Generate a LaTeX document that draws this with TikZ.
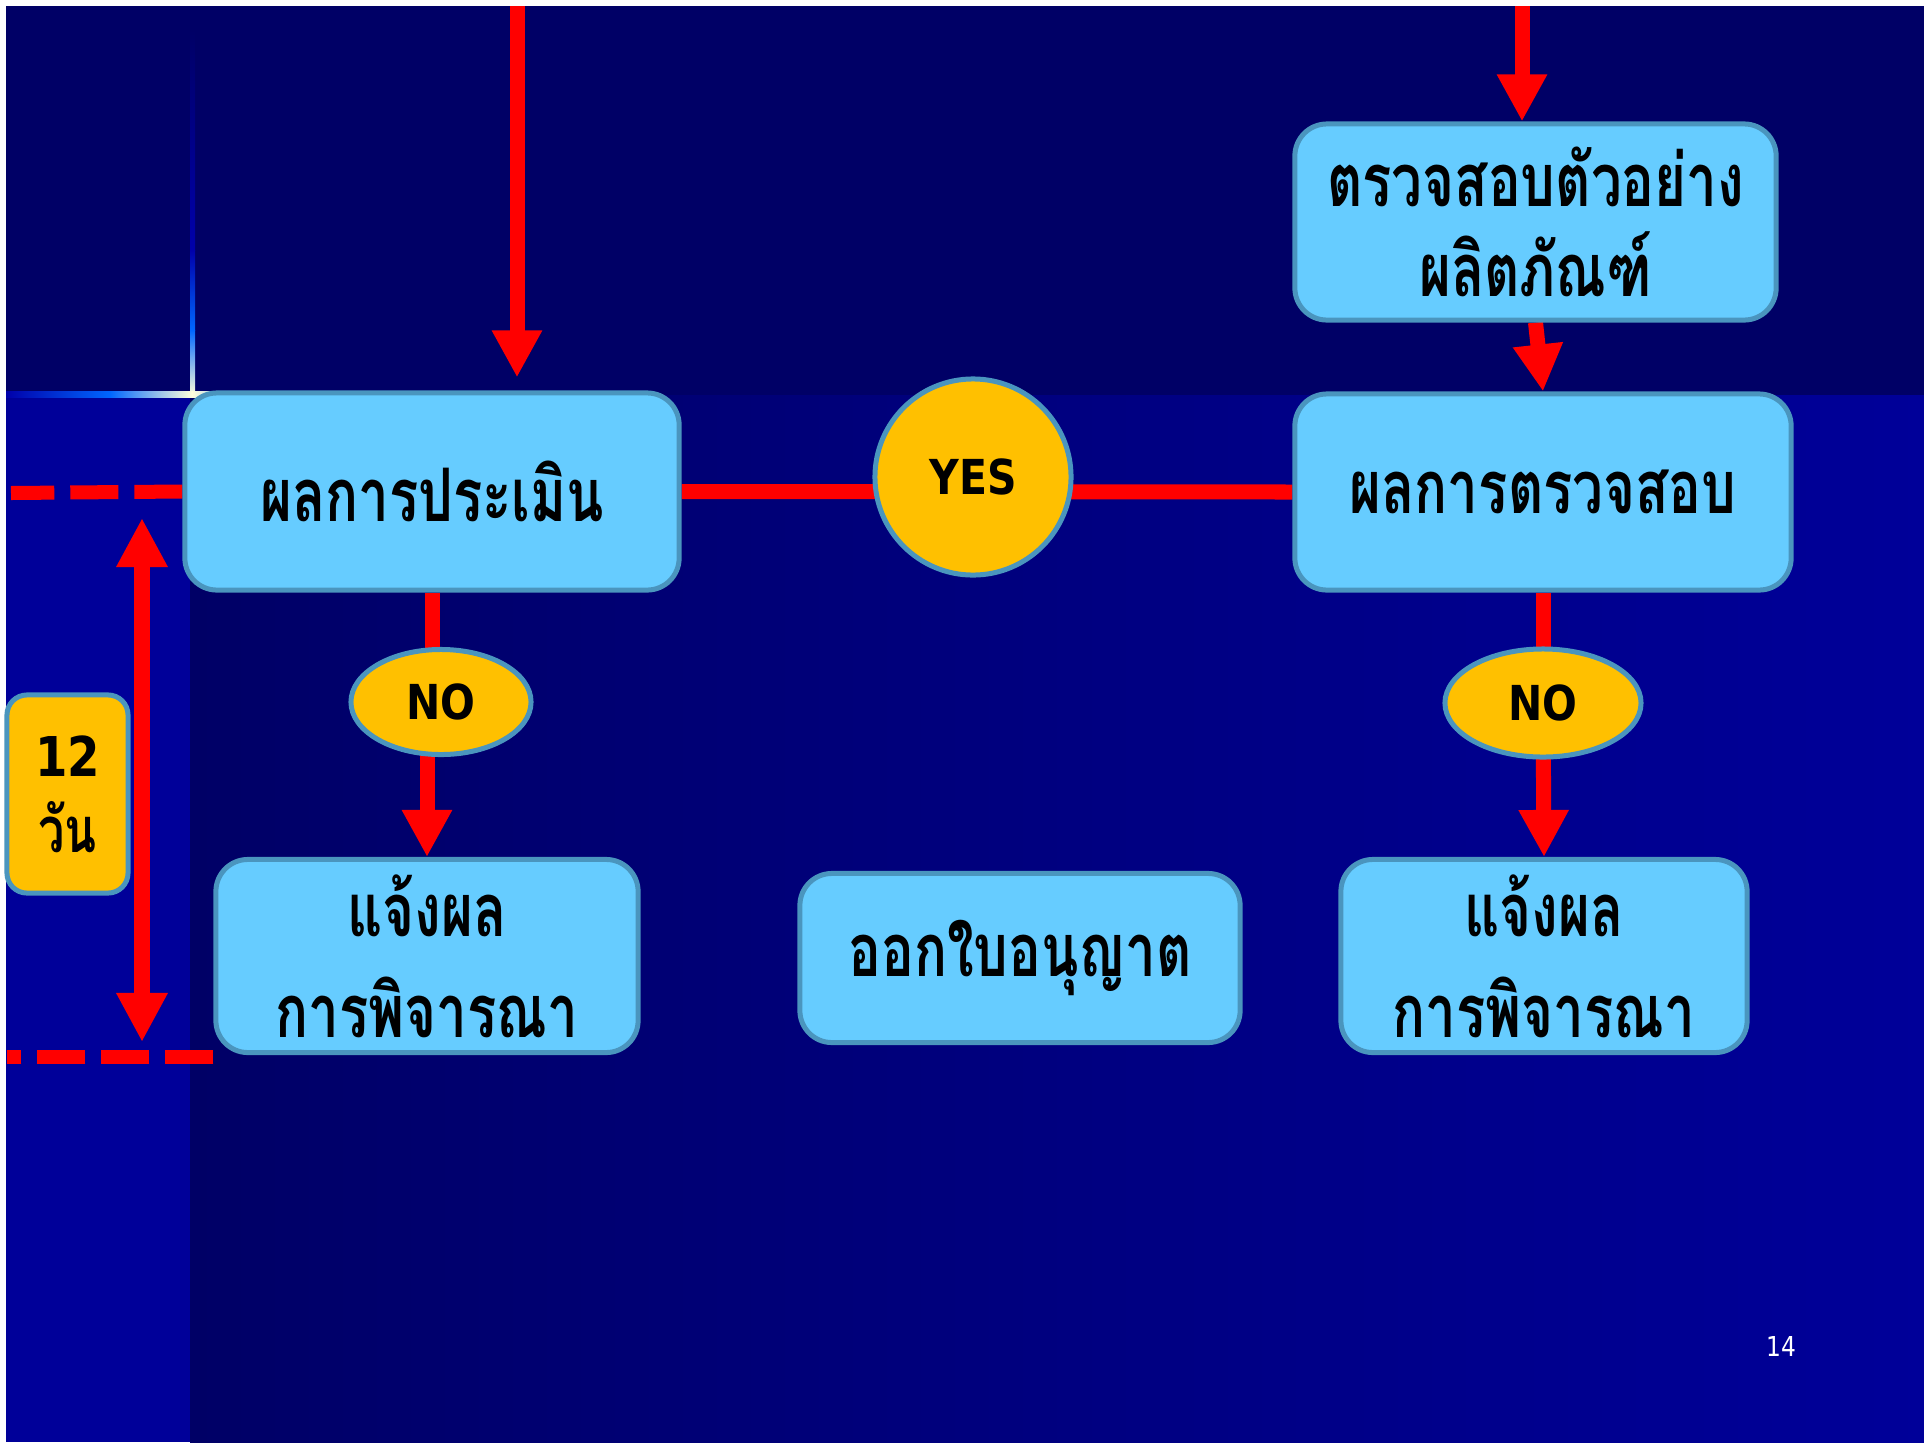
\documentclass[tikz,border=0pt]{standalone}
\usepackage{fontspec}
\usetikzlibrary{arrows.meta,shapes.geometric,calc}
\newfontfamily\thai[Script=Thai,FakeStretch=0.74]{Loma}
\newfontfamily\lat[FakeStretch=0.85]{DejaVu Sans}
\definecolor{navyA}{HTML}{000066}
\definecolor{navyB}{HTML}{000099}
\definecolor{navyC}{HTML}{0000AA}
\definecolor{boxc}{HTML}{66CCFF}
\definecolor{bordc}{HTML}{4A95BE}
\definecolor{goldc}{HTML}{FFC000}
\definecolor{glowB}{HTML}{0066FF}
\definecolor{glowW}{HTML}{FFFFDD}
\pgfdeclarelayer{back}\pgfdeclarelayer{conn}\pgfsetlayers{back,conn,main}
\begin{document}
\begin{tikzpicture}[x=0.01cm,y=-0.01cm,
 box/.style={draw=bordc,line width=0.5mm,fill=boxc,rounded corners=3.2mm,inner sep=0pt,align=center,text=black},
 bubble/.style={draw=bordc,line width=0.5mm,fill=goldc,inner sep=0pt,text=black,font=\lat\bfseries\fontsize{13.7}{16}\selectfont},
 thaitxt/.style={font=\thai\bfseries\fontsize{21}{25.6}\selectfont},
 thaitall/.style={font=\thai\bfseries\fontsize{21}{28.7}\selectfont},
 flow/.style={draw=red,line width=1.5mm},
 flowarrow/.style={flow,-{Triangle[length=4.7mm,width=4.7mm]}},
 dashline/.style={draw=red,line width=1.4mm,dash pattern=on 4.8mm off 1.6mm}
]
\useasboundingbox (0,0) rectangle (1924,1442);
% background
\begin{pgfonlayer}{back}
\fill[white] (0,0) rectangle (1924,1442);
\fill[navyA] (6,6) rectangle (1924,395);
\fill[navyB] (6,395) rectangle (190,1442);
\shade[left color=navyA,right color=navyB] (190,395) rectangle (1924,1442);
\shade[top color=navyA,bottom color=navyC] (190,30) rectangle (195,250);
\shade[top color=navyC,bottom color=glowB] (190,250) rectangle (195,330);
\shade[top color=glowB,bottom color=glowW] (190,330) rectangle (195,395);
\shade[left color=navyC,right color=glowB] (6,391) rectangle (110,397);
\shade[left color=glowB,right color=glowW] (110,391) rectangle (192,397);
\shade[left color=glowW,right color=glowB] (192,391) rectangle (280,397);
\shade[left color=glowB,right color=navyB] (280,391) rectangle (420,397);
\end{pgfonlayer}

% nodes
\node[box,thaitxt,minimum width=4.94cm,minimum height=1.97cm] (eval) at (432,491.5) {ผลการประเมิน};
\node[box,thaitxt,minimum width=4.81cm,minimum height=1.96cm] (sample) at (1535.5,222) {ตรวจสอบตัวอย่าง\\ผลิตภัณฑ์};
\node[box,thaitxt,minimum width=4.96cm,minimum height=1.96cm] (check) at (1543,492) {ผลการตรวจสอบ};
\node[box,thaitall,minimum width=4.22cm,minimum height=1.93cm] (notifyL) at (427,956) {แจ้งผล\\การพิจารณา};
\node[box,thaitxt,minimum width=4.40cm,minimum height=1.69cm] (permit) at (1020,958) {ออกใบอนุญาต};
\node[box,thaitall,minimum width=4.06cm,minimum height=1.93cm] (notifyR) at (1544,956) {แจ้งผล\\การพิจารณา};
\node[bubble,circle,minimum size=1.96cm] (yes) at (973,477) {YES};
\node[bubble,ellipse,minimum width=1.80cm,minimum height=1.05cm] (noL) at (441,702) {NO};
\node[bubble,ellipse,minimum width=1.96cm,minimum height=1.08cm] (noR) at (1543,703) {NO};
\node[box,fill=goldc,rounded corners=2mm,minimum width=1.21cm,minimum height=1.98cm,font=\fontsize{15}{21.5}\selectfont] (days) at (67.5,794) {{\lat\bfseries\fontsize{15.6}{21.5}\selectfont 12}\\{\thai\bfseries\fontsize{18}{21.5}\selectfont วัน}};
\node[text=white,font=\lat\fontsize{7.8}{9}\selectfont,inner sep=0pt] (page) at (1781,1346) {14};

% free ends
\coordinate (inL) at (517,6);
\coordinate (inR) at (1522,6);
\coordinate (dTop) at (11,493);
\coordinate (dBot) at (7,1057);
\coordinate (spanTop) at (142,518);
\coordinate (spanBot) at (142,1042);

% connectors
\begin{pgfonlayer}{conn}
\draw[flowarrow,shorten >=1.3mm] (inL) -- (inL |- eval.north);
\draw[flowarrow] (inR) -- (inR |- sample.north);
\draw[flowarrow] (sample.south) -- (check.north);
\draw[flow] (eval.east) -- (check.west);
\draw[flow] (eval.south) -- (eval.south |- noL.center);
\draw[flowarrow] (noL.center -| notifyL.north) -- (notifyL.north);
\draw[flow] (check.south) -- (noR.center);
\draw[flowarrow] (noR.center) -- (notifyR.north);
\draw[dashline] (eval.west) -- (dTop);
\draw[dashline] (dBot -| notifyL.west) -- (dBot);
\draw[draw=red,line width=1.6mm,{Triangle[length=4.9mm,width=4.8mm]}-{Triangle[length=4.9mm,width=4.8mm]}] (spanTop) -- (spanBot);
\end{pgfonlayer}
\end{tikzpicture}
\end{document}
